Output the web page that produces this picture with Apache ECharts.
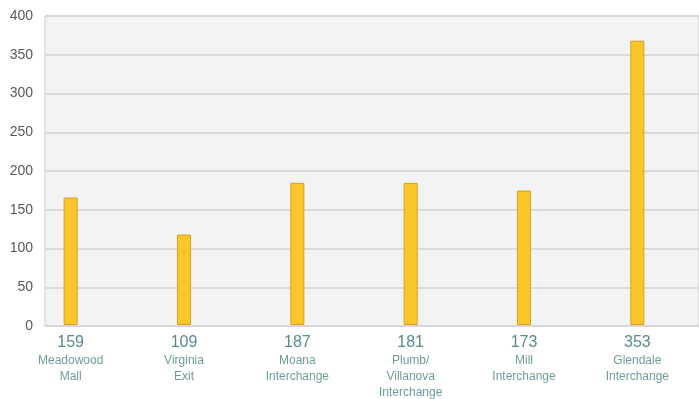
<!DOCTYPE html>
<html>
<head>
<meta charset="utf-8">
<script src="https://cdn.jsdelivr.net/npm/echarts@6/dist/echarts.min.js"></script>
<style>html,body{margin:0;padding:0;background:#fff}#c{width:699px;height:399px}</style>
</head>
<body>
<div id="c"></div>
<script>
const categories = ['Meadowood\nMall', 'Virginia\nExit', 'Moana\nInterchange', 'Plumb/\nVillanova\nInterchange', 'Mill\nInterchange', 'Glendale\nInterchange'];
const labelNumbers = ['159', '109', '187', '181', '173', '353'];
const values = [165, 117, 184, 184, 174, 368];
const yTicks = { min: 0, max: 400, interval: 50 };

const chart = echarts.init(document.getElementById('c'), null, { renderer: 'canvas' });
chart.setOption({
  animation: false,
  backgroundColor: '#ffffff',
  grid: [
    { left: 45, right: 0, top: 16, bottom: 73, show: true, backgroundColor: '#F3F3F3', borderColor: '#CFCFCF', borderWidth: 1 },
    { left: 14, width: 680, top: 16, bottom: 73 }
  ],
  xAxis: [
    { gridIndex: 0, type: 'category', data: categories, show: false },
    {
      gridIndex: 1, type: 'category', data: categories,
      axisLine: { show: false }, axisTick: { show: false },
      axisLabel: {
        margin: 7, interval: 0,
        formatter: function (v, i) {
          return '{n|' + labelNumbers[i] + '}\n' + v.split('\n').map(s => '{t|' + s + '}').join('\n');
        },
        rich: {
          n: { fontFamily: 'Liberation Sans', fontSize: 16, lineHeight: 21, color: '#5A8A89' },
          t: { fontFamily: 'Liberation Sans', fontSize: 12, lineHeight: 16, color: '#6F9C9B' }
        }
      }
    }
  ],
  yAxis: [
    {
      gridIndex: 0, type: 'value', min: yTicks.min, max: yTicks.max, interval: yTicks.interval,
      axisLine: { show: false }, axisTick: { show: false },
      axisLabel: { margin: 12, fontFamily: 'Liberation Sans', fontSize: 14, color: '#595959' },
      splitLine: { lineStyle: { color: '#D2D2D2', width: 1.5 } }
    },
    { gridIndex: 1, type: 'value', min: yTicks.min, max: yTicks.max, show: false, splitLine: { show: false } }
  ],
  series: [{
    type: 'bar', xAxisIndex: 1, yAxisIndex: 1, data: values, barWidth: 14,
    itemStyle: { color: '#FBC62A', borderColor: '#D6A21C', borderWidth: 1 }
  }]
});
</script>
</body>
</html>
